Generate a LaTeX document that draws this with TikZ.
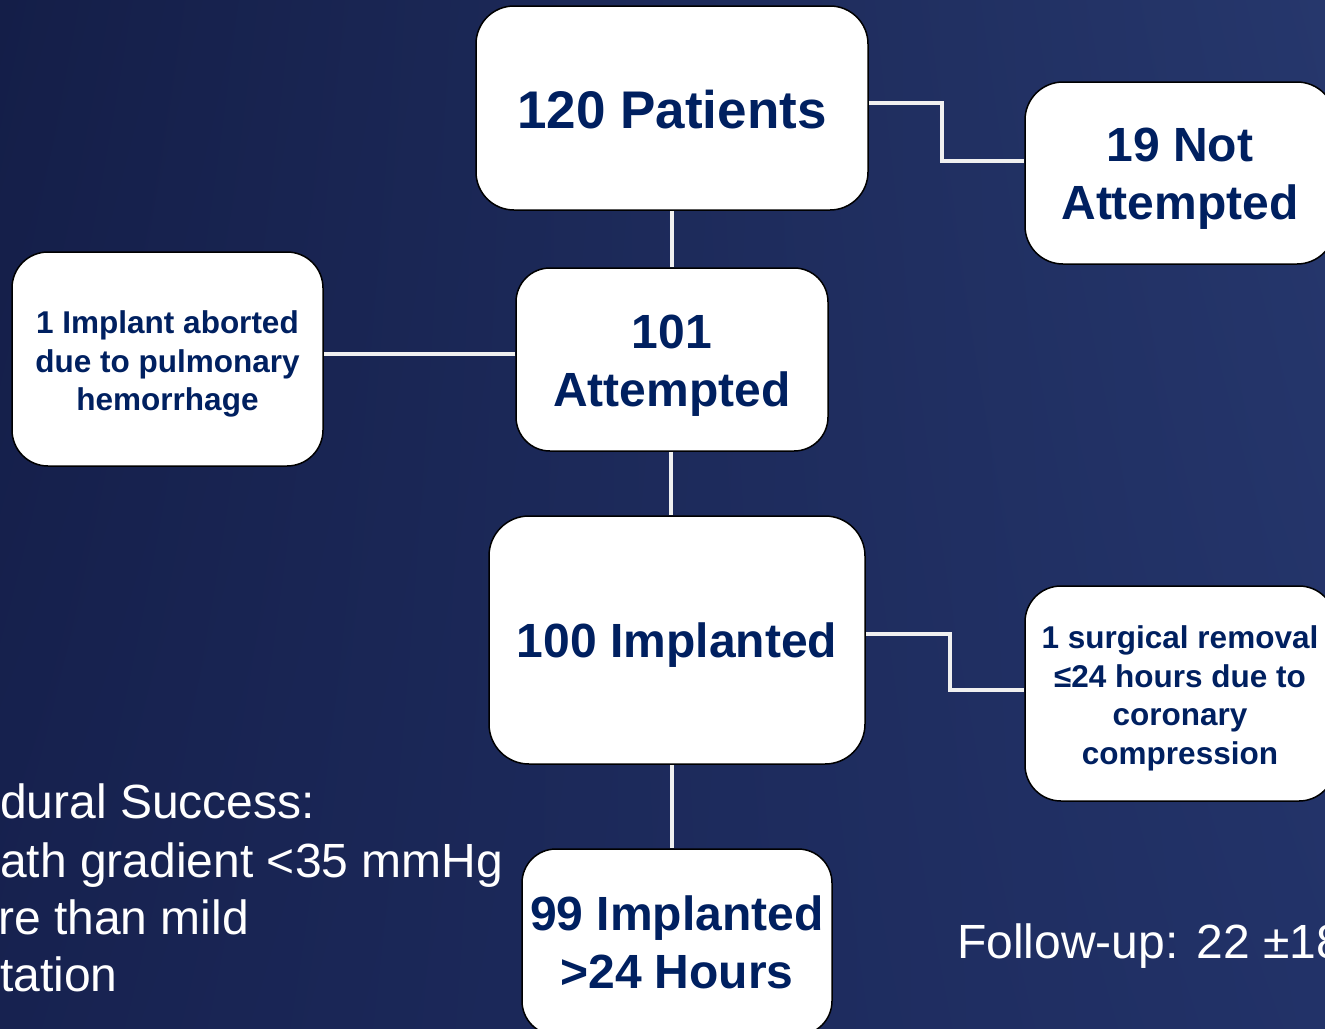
\documentclass[tikz,border=0pt]{standalone}
\usepackage{fontspec}
\setmainfont{Liberation Sans}
\usetikzlibrary{shadings}
\definecolor{navytxt}{RGB}{0,32,96}
\definecolor{bgA}{RGB}{20,30,72}
\definecolor{bgB}{RGB}{38,55,108}
\definecolor{bgC}{RGB}{23,34,80}
\definecolor{bgD}{RGB}{34,50,104}
\begin{document}
\begin{tikzpicture}[x=1pt,y=-1pt,
  box/.style={draw=black, line width=1.5pt, fill=white, rectangle, rounded corners=38pt, inner sep=0pt},
  boxtxt/.style={inner sep=0pt, align=center, text=navytxt},
  bigtxt/.style={boxtxt, font=\fontsize{48}{58}\selectfont\bfseries},
  smalltxt/.style={boxtxt, font=\fontsize{31.5}{38.5}\selectfont\bfseries},
  conn/.style={draw=white!94!black, line width=4pt},
  plain/.style={text=white, font=\fontsize{48}{57}\selectfont, inner sep=0pt}
]
\useasboundingbox (0,0) rectangle (1325,1028);
\shade[upper left=bgA, upper right=bgB, lower left=bgC, lower right=bgD] (0,0) rectangle (1325,1028);

\node[box, minimum width=392pt, minimum height=204pt] (pat) at (672,108) {};
\node[box, minimum width=310pt, minimum height=182pt] (notatt) at (1180,173) {};
\node[box, minimum width=311pt, minimum height=214pt, rounded corners=36pt] (abort) at (167.5,359) {};
\node[box, minimum width=312pt, minimum height=183pt, rounded corners=34pt] (att) at (672,359.5) {};
\node[box, minimum width=376pt, minimum height=248pt, rounded corners=40pt] (imp) at (677,640) {};
\node[box, minimum width=310pt, minimum height=215pt, rounded corners=36pt] (remov) at (1180,693.5) {};
\node[box, minimum width=310pt, minimum height=186pt, rounded corners=34pt] (imp99) at (677,942) {};

\node[boxtxt, font=\fontsize{53}{60}\selectfont\bfseries] (patT) at ([yshift=-2pt]pat.center) {120 Patients};
\node[bigtxt] (notattT) at ([yshift=-6pt]notatt.center) {19 Not\\Attempted};
\node[smalltxt] (abortT) at ([yshift=-5pt]abort.center) {1 Implant aborted\\due to pulmonary\\hemorrhage};
\node[bigtxt] (attT) at ([yshift=-6pt]att.center) {101\\Attempted};
\node[bigtxt] (impT) at ([yshift=-5pt]imp.center) {100 Implanted};
\node[smalltxt] (removT) at ([yshift=-5pt]remov.center) {1 surgical removal\\≤24 hours due to\\coronary\\compression};
\node[bigtxt] (imp99T) at (imp99.center) {99 Implanted\\>24 Hours};

\coordinate (c1) at (942,103);
\coordinate (c2) at (942,161);
\coordinate (c3) at (950,634);
\coordinate (c4) at (950,690);

\draw[conn] (pat.south -| 672,0) -- (att.north -| 672,0);
\draw[conn] (pat.east |- c1) -- (c1) -- (c2) -- (notatt.west |- c2);
\draw[conn] (att.west |- 0,354) -- (abort.east |- 0,354);
\draw[conn] (att.south -| 671,0) -- (imp.north -| 671,0);
\draw[conn] (imp.east |- c3) -- (c3) -- (c4) -- (remov.west |- c4);
\draw[conn] (imp.south -| 672,0) -- (imp99.north -| 672,0);

\node[plain, anchor=base west] (l1) at (0,818) {dural Success:};
\node[plain, anchor=base west] (l2) at (0,877) {ath gradient <35 mmHg};
\node[plain, anchor=base west] (l3) at (-2,934) {re than mild};
\node[plain, anchor=base west] (l4) at (0,991) {tation};
\node[plain, anchor=base west] (fu) at (957,958) {Follow-up: 22 ±18};
\end{tikzpicture}
\end{document}
